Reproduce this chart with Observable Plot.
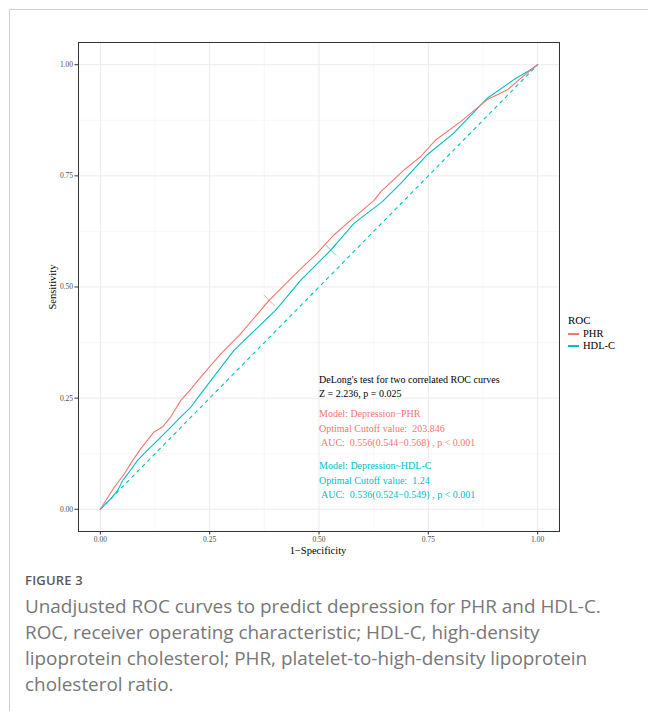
<!DOCTYPE html>
<html>
<head>
<meta charset="utf-8">
<script src="https://cdn.jsdelivr.net/npm/d3@7"></script>
<script src="https://cdn.jsdelivr.net/npm/@observablehq/plot@0.6"></script>
<style>
  html, body { margin: 0; padding: 0; background: #fff; }
  #wrap { position: relative; width: 648px; height: 711px; overflow: hidden; }
  #frame { position: absolute; left: 9px; top: 9px; width: 700px; height: 760px; border-left: 1px solid #d0d0d0; border-top: 1px solid #d0d0d0; }
  #chart { position: absolute; left: 0; top: 0; }
  .serif { font-family: "Liberation Serif", "Times New Roman", serif; }
  #ylab { position: absolute; left: 52px; top: 287px; transform: translate(-50%, -50%) rotate(-90deg); font-size: 10.5px; color: #000; white-space: nowrap; }
  #xlab { position: absolute; left: 318px; top: 550px; transform: translate(-50%, -50%); font-size: 10.5px; line-height: 11px; color: #000; white-space: nowrap; }
  #legend { position: absolute; left: 568px; top: 312px; font-size: 10.5px; color: #000; }
  #legend .title { height: 16px; line-height: 16px; font-size: 11px; }
  #legend .item { height: 12px; line-height: 12px; display: flex; align-items: center; }
  #legend .key { width: 11px; height: 1.2px; margin-right: 4px; }
  #fig { position: absolute; left: 25px; top: 571px; font-family: "Open Sans", sans-serif; font-size: 13px; font-weight: 600; color: #5a5a5a; letter-spacing: 0.2px; }
  #cap { position: absolute; left: 25px; top: 593px; width: 623px; font-family: "Open Sans", sans-serif; font-size: 18.9px; line-height: 26px; color: #777777; font-weight: 400; white-space: nowrap; }
</style>
</head>
<body>
<div id="wrap">
  <div id="frame"></div>
  <div id="chart"></div>
  <div id="ylab" class="serif">Sensitivity</div>
  <div id="xlab" class="serif">1−Specificity</div>
  <div id="legend" class="serif"></div>
  <div id="fig">FIGURE 3</div>
  <div id="cap">Unadjusted ROC curves to predict depression for PHR and HDL-C.<br>ROC, receiver operating characteristic; HDL-C, high-density<br>lipoprotein cholesterol; PHR, platelet-to-high-density lipoprotein<br>cholesterol ratio.</div>
</div>
<script>
// ---- data ----
const seriesNames = ["PHR", "HDL-C"];
const seriesColors = ["#F8766D", "#00BFC4"];

const phrFpr = [0, 0.032, 0.055, 0.074, 0.093, 0.123, 0.142, 0.161, 0.184, 0.205, 0.230, 0.276, 0.321, 0.386, 0.451, 0.496, 0.534, 0.572, 0.626, 0.641, 0.694, 0.732, 0.766, 0.824, 0.884, 0.930, 0.968, 1];
const phrTpr = [0, 0.050, 0.080, 0.110, 0.137, 0.174, 0.185, 0.208, 0.245, 0.268, 0.298, 0.350, 0.395, 0.470, 0.534, 0.576, 0.617, 0.650, 0.695, 0.714, 0.763, 0.793, 0.830, 0.872, 0.921, 0.943, 0.975, 1];

const hdlFpr = [0, 0.024, 0.040, 0.051, 0.063, 0.085, 0.112, 0.139, 0.161, 0.184, 0.207, 0.230, 0.253, 0.306, 0.401, 0.458, 0.527, 0.580, 0.645, 0.687, 0.747, 0.808, 0.884, 0.945, 0.976, 1];
const hdlTpr = [0, 0.024, 0.043, 0.065, 0.080, 0.110, 0.137, 0.163, 0.185, 0.208, 0.230, 0.260, 0.290, 0.358, 0.448, 0.515, 0.583, 0.643, 0.692, 0.733, 0.797, 0.846, 0.924, 0.966, 0.984, 1];

const diagX = [0, 1];
const diagY = [0, 1];

// optimal cutoff points (1-specificity, sensitivity)
const cutoffX = [0.386, 0.527];
const cutoffY = [0.470, 0.583];

const majorTicks = [0, 0.25, 0.5, 0.75, 1];
const minorTicks = [0.125, 0.375, 0.625, 0.875];

const annoBlackLines = ["DeLong's test for two correlated ROC curves", "Z = 2.236, p = 0.025"];
const annoPhrLines = ["Model: Depression−PHR", "Optimal Cutoff value:  203.846", " AUC:  0.556(0.544−0.568) , p < 0.001"];
const annoHdlLines = ["Model: Depression~HDL-C", "Optimal Cutoff value:  1.24", " AUC:  0.536(0.524−0.549) , p < 0.001"];
const annoX = 0.5;
const annoY = [0.279, 0.185, 0.068];

// ---- build tables ----
const phr = phrFpr.map((x, i) => ({x, y: phrTpr[i], s: "PHR"}));
const hdl = hdlFpr.map((x, i) => ({x, y: hdlTpr[i], s: "HDL-C"}));
const diag = diagX.map((x, i) => ({x, y: diagY[i]}));
const cut = cutoffX.map((x, i) => ({x, y: cutoffY[i], s: seriesNames[i]}));
const annos = [
  {x: annoX, y: annoY[0], t: annoBlackLines.join("\n"), c: "#000000"},
  {x: annoX, y: annoY[1], t: annoPhrLines.join("\n"), c: seriesColors[0]},
  {x: annoX, y: annoY[2], t: annoHdlLines.join("\n"), c: seriesColors[1]}
];

const fmt = d3.format(".2f");
const font = "Liberation Serif, Times New Roman, serif";

const chart = Plot.plot({
  width: 648,
  height: 560,
  marginLeft: 78,
  marginRight: 89,
  marginTop: 42,
  marginBottom: 29,
  style: {fontFamily: font, background: "transparent", overflow: "visible"},
  x: {domain: [-0.05, 1.05]},
  y: {domain: [-0.05, 1.05]},
  color: {domain: seriesNames, range: seriesColors},
  marks: [
    Plot.ruleX(minorTicks, {stroke: "#f4f4f4", strokeWidth: 0.6}),
    Plot.ruleY(minorTicks, {stroke: "#f4f4f4", strokeWidth: 0.6}),
    Plot.ruleX(majorTicks, {stroke: "#ebebeb", strokeWidth: 1}),
    Plot.ruleY(majorTicks, {stroke: "#ebebeb", strokeWidth: 1}),
    Plot.line(diag, {x: "x", y: "y", stroke: seriesColors[1], strokeWidth: 1.1, strokeDasharray: "3,4.5"}),
    Plot.line(hdl, {x: "x", y: "y", stroke: seriesColors[1], strokeWidth: 1.1}),
    Plot.line(phr, {x: "x", y: "y", stroke: seriesColors[0], strokeWidth: 1.1}),
    Plot.dot(cut, {x: "x", y: "y", symbol: "times", r: 5, stroke: "s", strokeWidth: 1, strokeOpacity: 0.65}),
    Plot.text(annos, {x: "x", y: "y", text: "t", fill: "c", textAnchor: "start", lineAnchor: "middle", lineHeight: 1.45, fontSize: 10}),
    Plot.frame({stroke: "#333333", strokeWidth: 1}),
    Plot.axisX(majorTicks, {tickSize: 3.5, tickPadding: 1.5, fontSize: 7.5, tickFormat: fmt, fill: "#4d4d4d", stroke: "#333", label: null}),
    Plot.axisY(majorTicks, {tickSize: 3.5, tickPadding: 2, fontSize: 7.5, tickFormat: fmt, fill: "#4d4d4d", stroke: "#333", label: null})
  ]
});
document.getElementById("chart").appendChild(chart);

// legend
const lg = document.getElementById("legend");
const t = document.createElement("div");
t.className = "title"; t.textContent = "ROC"; lg.appendChild(t);
seriesNames.forEach((n, i) => {
  const it = document.createElement("div"); it.className = "item";
  const k = document.createElement("span"); k.className = "key"; k.style.background = seriesColors[i];
  const l = document.createElement("span"); l.textContent = n;
  it.appendChild(k); it.appendChild(l); lg.appendChild(it);
});
</script>
</body>
</html>
